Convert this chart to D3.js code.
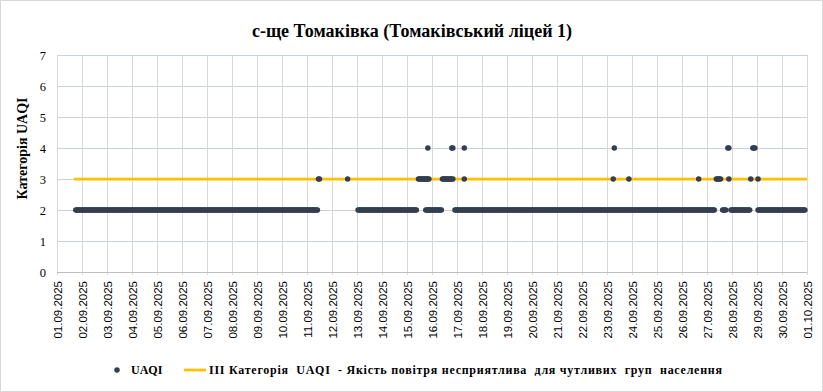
<!DOCTYPE html>
<html>
<head>
<meta charset="utf-8">
<script src="https://cdn.jsdelivr.net/npm/d3@7"></script>
<style>
  html, body { margin: 0; padding: 0; background: #fff; }
</style>
</head>
<body>
<svg id="chart"></svg>
<script>
// chart text
const chartTitle = "с-ще Томаківка (Томаківський ліцей 1)";
const yTitle = "Категорія UAQI";
const legendUaqi = "UAQI";
const legendThreshold = "ІІІ Категорія  UAQI  - Якість повітря несприятлива  для чутливих  груп  населення";

// y ticks
const yTicks = [0, 1, 2, 3, 4, 5, 6, 7];

// x ticks: one per day
const xStart = "2025-09-01 00:00";
const xEnd = "2025-10-01 00:00";

// hourly UAQI readings, written as runs of equal category [from, to, category]
const uaqiRuns = [
  ["2025-09-01 18:00", "2025-09-11 10:00", 2],
  ["2025-09-11 11:00", "2025-09-11 12:00", 3],
  ["2025-09-12 15:00", "2025-09-12 15:00", 3],
  ["2025-09-13 01:00", "2025-09-15 09:00", 2],
  ["2025-09-15 11:00", "2025-09-15 21:00", 3],
  ["2025-09-15 20:00", "2025-09-15 20:00", 4],
  ["2025-09-15 18:00", "2025-09-16 09:00", 2],
  ["2025-09-16 10:00", "2025-09-16 20:00", 3],
  ["2025-09-16 19:00", "2025-09-16 20:00", 4],
  ["2025-09-16 22:00", "2025-09-23 20:00", 2],
  ["2025-09-17 07:00", "2025-09-17 07:00", 4],
  ["2025-09-17 07:00", "2025-09-17 07:00", 3],
  ["2025-09-23 06:00", "2025-09-23 06:00", 3],
  ["2025-09-23 07:00", "2025-09-23 07:00", 4],
  ["2025-09-23 21:00", "2025-09-23 21:00", 3],
  ["2025-09-23 21:00", "2025-09-26 15:00", 2],
  ["2025-09-26 16:00", "2025-09-26 16:00", 3],
  ["2025-09-26 16:00", "2025-09-27 07:00", 2],
  ["2025-09-27 09:00", "2025-09-27 13:00", 3],
  ["2025-09-27 15:00", "2025-09-27 18:00", 2],
  ["2025-09-27 20:00", "2025-09-27 21:00", 4],
  ["2025-09-27 21:00", "2025-09-27 21:00", 3],
  ["2025-09-27 23:00", "2025-09-28 17:00", 2],
  ["2025-09-28 18:00", "2025-09-28 18:00", 3],
  ["2025-09-28 20:00", "2025-09-28 22:00", 4],
  ["2025-09-29 01:00", "2025-09-29 01:00", 3],
  ["2025-09-29 01:00", "2025-09-30 22:00", 2]
];

// category III threshold line
const thresholdValue = 3;
const thresholdSpan = ["2025-09-01 16:00", "2025-10-01 00:00"];

const width = 823;
const height = 392;
const margin = { top: 55, right: 16, bottom: 120, left: 57 };

const parse = d3.utcParse("%Y-%m-%d %H:%M");
const fmt = d3.utcFormat("%d.%m.%Y");

// expand runs into hourly points
const uaqi = uaqiRuns.flatMap(([a, b, v]) =>
  d3.utcHour.range(parse(a), d3.utcHour.offset(parse(b), 1)).map((t) => ({ t, v }))
);
const threshold = thresholdSpan.map((s) => ({ t: parse(s), v: thresholdValue }));

const svg = d3.select("#chart").attr("width", width).attr("height", height);

svg.append("rect")
  .attr("x", 0.5).attr("y", 0.5)
  .attr("width", width - 1).attr("height", height - 1)
  .attr("fill", "#fff").attr("stroke", "#d9d9d9");

const x = d3.scaleUtc()
  .domain([parse(xStart), parse(xEnd)])
  .range([margin.left, width - margin.right]);

const y = d3.scaleLinear()
  .domain([0, 7])
  .range([height - margin.bottom, margin.top]);

const days = d3.utcDay.range(parse(xStart), d3.utcDay.offset(parse(xEnd), 1));

// horizontal gridlines
svg.append("g")
  .selectAll("line")
  .data(yTicks.filter((d) => d > 0))
  .join("line")
  .attr("x1", margin.left).attr("x2", width - margin.right)
  .attr("y1", (d) => Math.round(y(d)) + 0.5).attr("y2", (d) => Math.round(y(d)) + 0.5)
  .attr("stroke", "#c8d0e2").attr("stroke-width", 1);

// vertical gridlines
svg.append("g")
  .selectAll("line")
  .data(days)
  .join("line")
  .attr("x1", (d) => Math.round(x(d)) + 0.5).attr("x2", (d) => Math.round(x(d)) + 0.5)
  .attr("y1", margin.top).attr("y2", y(0) + 3)
  .attr("stroke", "#d9d9d9").attr("stroke-width", 1);

// x axis line
svg.append("line")
  .attr("x1", margin.left).attr("x2", width - margin.right)
  .attr("y1", Math.round(y(0)) + 0.5).attr("y2", Math.round(y(0)) + 0.5)
  .attr("stroke", "#bfbfbf");

// y axis labels
const yAxis = svg.append("g")
  .attr("transform", `translate(${margin.left - 11},0)`)
  .call(d3.axisLeft(y).tickValues(yTicks).tickSize(0).tickPadding(0).tickFormat(d3.format("d")));
yAxis.select(".domain").remove();
yAxis.selectAll("text")
  .style("font", "12.5px 'Liberation Serif', serif")
  .attr("fill", "#000");

// x axis labels
const xAxis = svg.append("g")
  .attr("transform", `translate(0,${y(0)})`)
  .call(d3.axisBottom(x).tickValues(days).tickSize(0).tickPadding(0).tickFormat(fmt));
xAxis.select(".domain").remove();
xAxis.selectAll("text")
  .style("font", "11.5px 'Liberation Sans', sans-serif")
  .attr("fill", "#000")
  .attr("text-anchor", "end")
  .attr("transform", "rotate(-90)")
  .attr("x", -9)
  .attr("y", 0)
  .attr("dy", "0.35em");

// threshold line
const line = d3.line().x((d) => x(d.t)).y((d) => y(d.v));
svg.append("path")
  .datum(threshold)
  .attr("fill", "none")
  .attr("stroke", "#ffc000")
  .attr("stroke-width", 2.75)
  .attr("d", line);

// UAQI markers
svg.append("g")
  .selectAll("circle")
  .data(uaqi)
  .join("circle")
  .attr("cx", (d) => x(d.t))
  .attr("cy", (d) => y(d.v))
  .attr("r", 2.75)
  .attr("fill", "#333f50");

// title
svg.append("text")
  .attr("x", 412).attr("y", 37)
  .attr("text-anchor", "middle")
  .style("font", "bold 18px 'Liberation Serif', serif")
  .text(chartTitle);

// y title
svg.append("text")
  .attr("transform", `translate(27,${(margin.top + y(0)) / 2 - 15}) rotate(-90)`)
  .attr("text-anchor", "middle")
  .style("font", "bold 14px 'Liberation Serif', serif")
  .text(yTitle);

// legend
const legend = svg.append("g").attr("transform", "translate(0,370)")
  .style("font", "bold 12px 'Liberation Serif', serif");
legend.append("circle").attr("cx", 117).attr("cy", 0).attr("r", 2.75).attr("fill", "#333f50");
legend.append("text").attr("x", 131).attr("y", 4).text(legendUaqi);
legend.append("line")
  .attr("x1", 184).attr("x2", 206).attr("y1", 0).attr("y2", 0)
  .attr("stroke", "#ffc000").attr("stroke-width", 2.75);
legend.append("text").attr("x", 209).attr("y", 4)
  .attr("textLength", 513).attr("lengthAdjust", "spacing")
  .style("white-space", "pre")
  .text(legendThreshold);
</script>
</body>
</html>
